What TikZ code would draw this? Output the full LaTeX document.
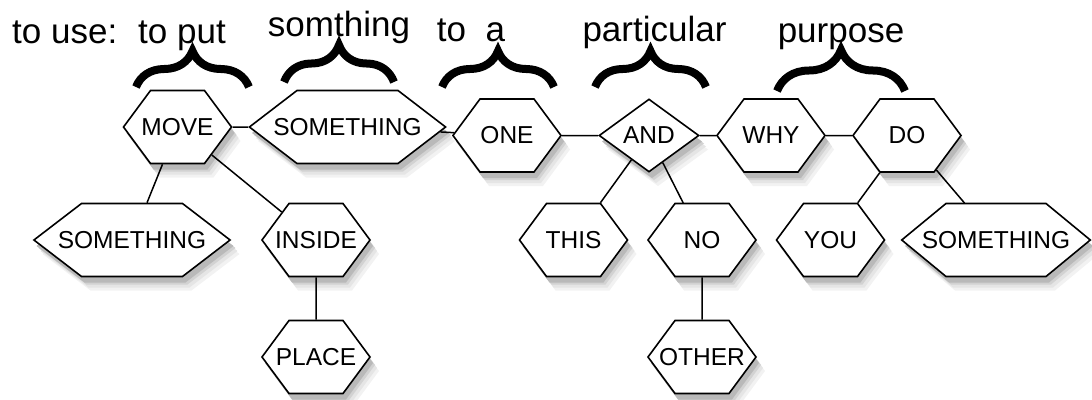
\documentclass[tikz,border=0pt]{standalone}
\usepackage{fontspec}
\setmainfont{Liberation Sans}
\usepackage{tikz}
\usetikzlibrary{shapes.symbols,shapes.geometric}
\usetikzlibrary{decorations.pathreplacing}
\newcommand{\wordfont}{\fontsize{24.5}{28}\selectfont}
\newcommand{\glossfont}{\fontsize{35}{40}\selectfont}

\begin{document}
\begin{tikzpicture}[x=1pt, y=-1pt,
    hexbase/.style={draw, line width=1.6pt, fill=white, minimum height=73pt,
      inner sep=0pt, font=\wordfont},
    widehex/.style 2 args={hexbase, shape=signal, signal to=east and west,
      signal pointer angle=#1,
      execute at begin node={\hbox to #2\bgroup\hss},
      execute at end node={\hss\egroup}},
    hexbox/.style={widehex={107}{54pt}},
    diabox/.style={hexbase, shape=diamond, aspect=1.37, minimum width=100pt},
    link/.style={line width=1.5pt},
    gloss/.style={font=\glossfont, inner sep=0pt, anchor=base},
    bracket/.style={line width=8pt, decorate, decoration={brace, amplitude=#1}}]
  \useasboundingbox (0,0) rectangle (1092,399);
  % soft shadows under the word boxes (centre, half body, pointer)
  \foreach \cx/\cy/\b/\p in {177.5/127/27/27, 347.5/127/50.5/48, 507/135.5/27/27,
      649/135.5/0/50, 771/135.5/27/27, 907/135.5/27/27, 132/240/50.5/48,
      316/240/27/27, 316/357/27/27, 573.5/240/27/27, 702/240/27/27,
      702/357/27/27, 830.5/240/27/27, 996/240/50/44}
    \foreach \dx/\dy/\tone in {9/14/10, 7/11/20, 5/8/35, 3/6/55}
      \fill[gray!\tone] (\cx-\b-\p+\dx,\cy+\dy) -- (\cx-\b+\dx,\cy-36.5+\dy)
        -- (\cx+\b+\dx,\cy-36.5+\dy) -- (\cx+\b+\p+\dx,\cy+\dy)
        -- (\cx+\b+\dx,\cy+36.5+\dy) -- (\cx-\b+\dx,\cy+36.5+\dy) -- cycle;
  % upper row of words
  \node[hexbox]  (move)   at (177.5,127)   {MOVE};
  \node[widehex={75}{101pt}] (sthA) at (347.5,127) {SOMETHING};
  \node[hexbox]  (one)    at (507,135.5)   {ONE};
  \node[diabox]  (and)    at (649,135.5)   {AND};
  \node[hexbox]  (why)    at (771,135.5)   {WHY};
  \node[hexbox]  (do)     at (907,135.5)   {DO};
  % lower rows
  \node[widehex={75}{101pt}] (sthB) at (132,240) {SOMETHING};
  \node[hexbox]  (inside) at (316,240)     {INSIDE};
  \node[hexbox]  (place)  at (316,357)     {PLACE};
  \node[hexbox]  (this)   at (573.5,240)   {THIS};
  \node[hexbox]  (no)     at (702,240)     {NO};
  \node[hexbox]  (other)  at (702,357)     {OTHER};
  \node[hexbox]  (you)    at (830.5,240)   {YOU};
  \node[widehex={79}{100pt}] (sthC) at (996,240) {SOMETHING};
  % links
  \draw[link] (move) -- (sthA);
  \draw[link] (sthA) -- (one);
  \draw[link] (one) -- (and);
  \draw[link] (and) -- (why);
  \draw[link] (why) -- (do);
  \draw[link] (move) -- (sthB);
  \draw[link] (move) -- (inside);
  \draw[link] (inside) -- (place);
  \draw[link] (and) -- (this);
  \draw[link] (and) -- (no);
  \draw[link] (no) -- (other);
  \draw[link] (do) -- (you);
  \draw[link] (do) -- (sthC);
  % glosses
  \node[gloss, anchor=base west] (use) at (12,43) {to use:};
  \node[gloss] (put) at (182,43) {to put};
  \node[gloss] (somthing) at (339,36) {somthing};
  \node[gloss] (toa) at (471,41) {to\ \ a};
  \node[gloss] (particular) at (654.5,41) {particular};
  \node[gloss] (purpose) at (841,42) {purpose};
  % braces
  \draw[bracket=36] (136,87) -- (249,87);
  \draw[bracket=37] (284,82) -- (394,82);
  \draw[bracket=36] (442,87) -- (554,87);
  \draw[bracket=36] (595,87) -- (706,87);
  \draw[bracket=41] (777,91) -- (905,91);
\end{tikzpicture}
\end{document}
